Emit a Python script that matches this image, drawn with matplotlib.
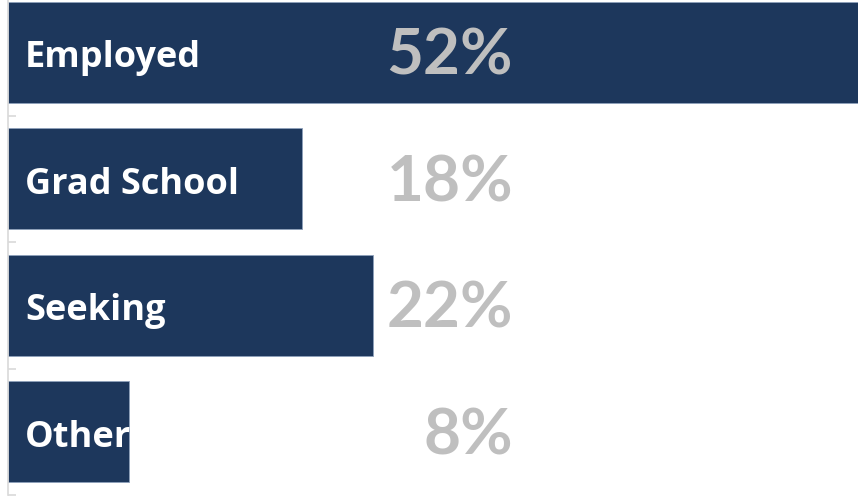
import matplotlib.pyplot as plt

categories = ["Employed", "Grad School", "Seeking", "Other"]
values = [52, 18, 22.3, 7.4]
pct_labels = ["52%", "18%", "22%", "8%"]

fig = plt.figure(figsize=(8.64, 5.01), dpi=100)
ax = fig.add_axes([8 / 864, 1 - 495 / 501, 850 / 864, 506 / 501])

pos = list(range(len(categories)))
ax.barh(pos, values, height=0.8, color="#1d375c", edgecolor="#8da0bb", linewidth=0.6)
ax.set_xlim(0, 52)
ax.set_ylim(len(categories) - 0.5, -0.5)

# labels inside the bars and the percentages in grey
for p, cat, lab in zip(pos, categories, pct_labels):
    ax.text(1.05, p + 0.12, cat, color="white", fontsize=26, fontweight="bold",
            family="Open Sans", va="baseline", ha="left")
    ax.text(30.9, p + 0.03, lab, color="#bfbfbf", fontsize=46, fontweight="bold",
            family="Lato", va="center", ha="right")

for s in ["top", "right", "bottom"]:
    ax.spines[s].set_visible(False)
ax.spines["left"].set_color("#d9d9d9")
ax.spines["left"].set_linewidth(1.2)
ax.set_xticks([])
ax.set_yticks([p + 0.5 for p in pos])
ax.set_yticklabels([])
ax.tick_params(axis="y", direction="in", length=6, color="#d9d9d9", width=1.2)

plt.savefig("out.png", dpi=100)
